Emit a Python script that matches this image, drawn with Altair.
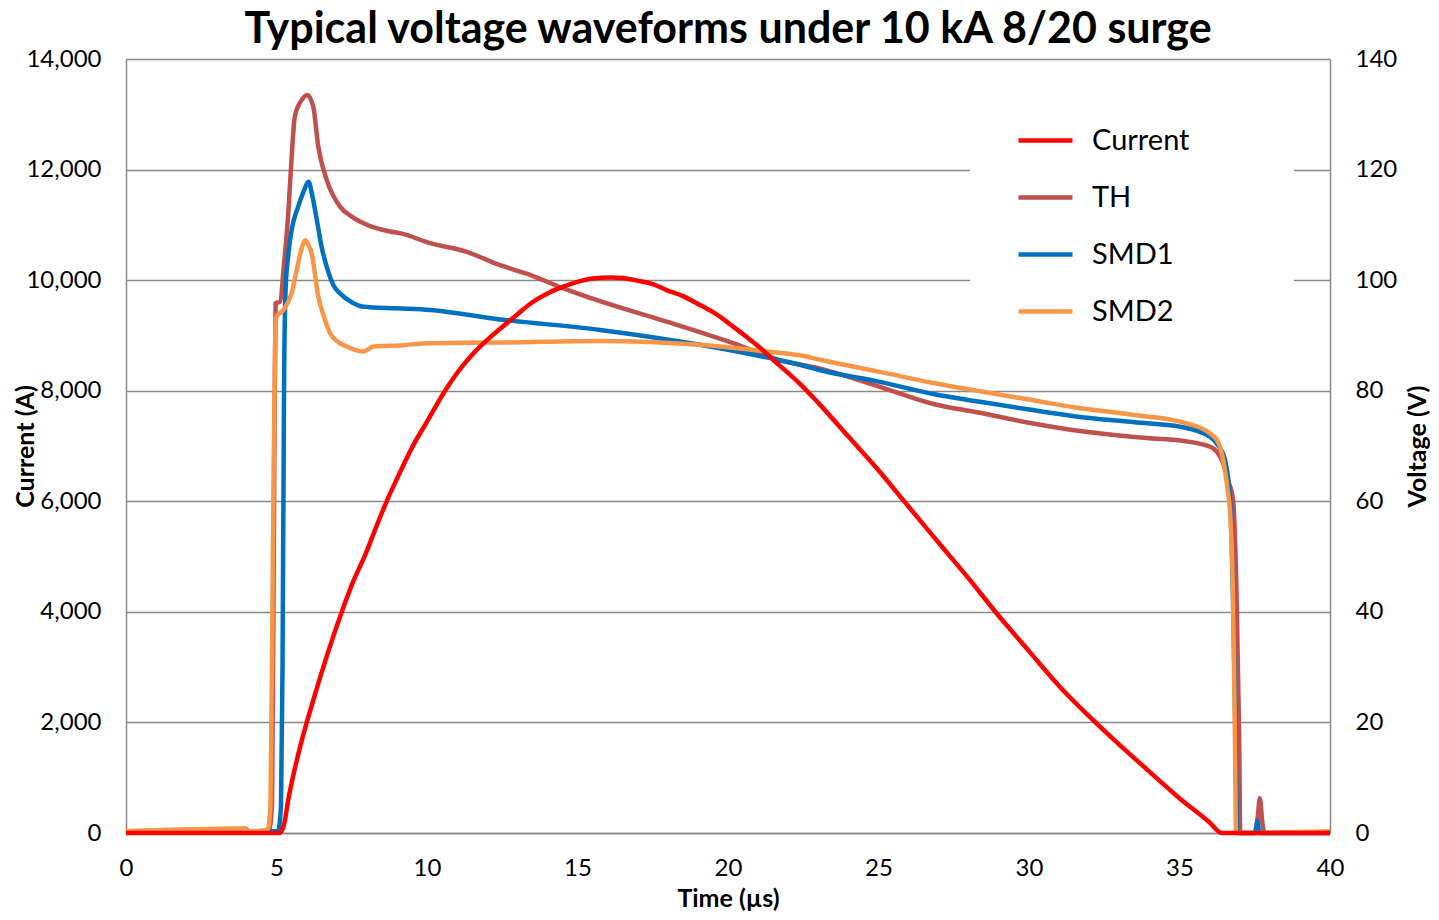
import altair as alt
import pandas as pd

# ---- data ----
series_names = ["Current", "TH", "SMD1", "SMD2"]
series_colors = ["#FF0000", "#C0504D", "#0070C0", "#F79646"]

x_ticks = [0, 5, 10, 15, 20, 25, 30, 35, 40]
current_ticks = [0, 2000, 4000, 6000, 8000, 10000, 12000, 14000]
voltage_ticks = [0, 20, 40, 60, 80, 100, 120, 140]

current_t = [0, 4.0, 5.1, 5.25, 5.39, 5.73, 6.22, 6.7, 7.17, 7.55, 7.94, 8.3, 8.66, 9.1,
             9.55, 10.0, 10.6, 11.0, 11.5, 12.0, 12.43, 13.0, 13.5, 14.0, 14.42, 15.0,
             15.5, 16.08, 16.5, 17.0, 17.5, 17.96, 18.5, 19.0, 19.62, 20.17, 20.6, 21.06,
             21.5, 22.0, 22.4, 23.0, 24.0, 25.0, 25.82, 27.0, 28.0, 28.93, 30.0, 31.0,
             32.25, 33.0, 34.0, 35.0, 36.0, 36.4, 38.0, 40.0]
current_a = [0, 0, 0, 150, 600, 1440, 2400, 3250, 4000, 4550, 5020, 5520, 6000, 6520,
             7020, 7440, 8000, 8320, 8650, 8920, 9120, 9380, 9600, 9760, 9860, 9970,
             10030, 10050, 10040, 9990, 9930, 9820, 9710, 9570, 9380, 9160, 8980, 8780,
             8560, 8320, 8120, 7780, 7170, 6560, 6020, 5250, 4600, 3970, 3290, 2660,
             1980, 1600, 1110, 630, 190, 0, 0, 0]

th_t = [0, 3.8, 3.95, 4.1, 4.75, 4.85, 4.92, 4.97, 5.12, 5.25, 5.39, 5.5, 5.61, 5.84,
        6.02, 6.22, 6.39, 6.67, 7.11, 7.5, 7.89, 8.77, 9.1, 10.1, 11.32, 12.43, 13.4,
        14.4, 15.75, 17.96, 20.17, 21.73, 23.06, 25.05, 26.82, 28.37, 30.0, 31.69,
        33.0, 34.02, 35.02, 36.01, 36.3, 36.45, 36.6, 36.78, 36.9, 36.98, 37.02, 37.5,
        37.6, 37.67, 37.75, 37.82, 40.0]
th_v = [0.3, 0.3, 0.8, 0.3, 0.5, 5, 60, 95.8, 96.1, 103, 112, 122, 129.6, 132.6,
        133.5, 131.4, 124.1, 118.1, 113.3, 111.5, 110.3, 108.8, 108.5, 106.7, 105.1,
        102.7, 101.0, 98.8, 96.2, 92.5, 88.6, 85.5, 84.0, 80.7, 77.6, 76.0, 74.2, 72.7,
        71.9, 71.4, 71.0, 69.9, 68.5, 66.9, 64.0, 60.2, 42.0, 18.0, 0, 0,
        3.0, 6.3, 2.0, 0, 0]

smd1_t = [0, 3.9, 4.1, 5.05, 5.15, 5.2, 5.25, 5.3, 5.4, 5.5, 5.72, 5.9, 6.06, 6.2, 6.34,
          6.5, 6.67, 6.9, 7.11, 7.5, 7.89, 8.99, 10.1, 12.43, 15.75, 19.07, 21.73,
          22.39, 23.06, 25.05, 26.82, 28.37, 30.0, 31.5, 33.5, 35.02, 36.01, 36.3,
          36.51, 36.68, 36.78, 36.86, 36.92, 37.5, 37.55, 37.59, 37.65, 40.0]
smd1_v = [0.3, 0.6, 0.3, 0.3, 5, 30, 80, 98, 105, 109, 113.3, 116, 117.8, 115, 110.9,
          106, 102.4, 99, 97.6, 96, 95.2, 94.9, 94.6, 92.9, 91.0, 88.3, 85.5,
          84.7, 83.7, 81.6, 79.4, 78.0, 76.6, 75.4, 74.3, 73.5, 71.7, 70.0,
          67.5, 60.2, 42.0, 18.0, 0, 0, 1.0, 2.2, 0, 0]

smd2_t = [0, 3.9, 4.1, 4.7, 4.8, 4.88, 4.95, 5.0, 5.23, 5.5, 5.67, 5.85, 5.95, 6.05,
          6.17, 6.39, 6.6, 6.78, 7.0, 7.33, 7.89, 8.22, 9.1, 10.1, 12.43, 15.75, 19.07,
          21.3, 22.39, 23.06, 25.05, 26.82, 28.37, 30.0, 31.5, 33.5, 35.02, 36.01,
          36.3, 36.45, 36.6, 36.68, 36.78, 36.84, 36.88, 40.0]
smd2_v = [0.3, 0.8, 0.3, 0.5, 5, 50, 88, 93.4, 94.6, 97.6, 101.8, 106, 107.2, 106.5,
          104.8, 97, 93, 90.4, 89, 88, 87.1, 88, 88.2, 88.6, 88.7, 89.0, 88.3,
          87.1, 86.4, 85.6, 83.4, 81.4, 79.9, 78.4, 77.0, 75.6, 74.4, 72.3,
          70.5, 67.5, 62.0, 58.0, 42.0, 18.0, 0, 0.3]

# ---- tables ----
df_cur = pd.DataFrame({"t": current_t, "value": current_a, "series": series_names[0]})
df_th = pd.DataFrame({"t": th_t, "value": th_v, "series": series_names[1]})
df_s1 = pd.DataFrame({"t": smd1_t, "value": smd1_v, "series": series_names[2]})
df_s2 = pd.DataFrame({"t": smd2_t, "value": smd2_v, "series": series_names[3]})

FONT = "Lato"
GRID = "#898989"
LBL = 24
TTL = 25
PAD = "\u2800" * 4

x_enc = alt.X(
    "t:Q",
    scale=alt.Scale(domain=[0, 40], nice=False),
    axis=alt.Axis(values=x_ticks, title="Time (µs)", grid=False, ticks=False, tickSize=0,
                  domainColor=GRID, domainWidth=1.5, labelFontSize=LBL, labelFont=FONT,
                  labelColor="black", labelPadding=23, labelFlush=False,
                  titleFontSize=TTL, titleFont=FONT,
                  titleFontWeight="bold", titleColor="black", titleY=65,
                  titleBaseline="middle"),
)

color_enc = alt.Color(
    "series:N",
    scale=alt.Scale(domain=series_names, range=series_colors),
    sort=series_names,
    legend=alt.Legend(orient="none", legendX=844, legendY=32, title=None,
                      symbolType="stroke", symbolSize=2916, symbolStrokeWidth=4.5,
                      symbolOffset=26,
                      labelFontSize=29, labelFont=FONT, labelColor="black", labelOffset=17,
                      labelLimit=400, rowPadding=12, padding=20, fillColor="white",
                      labelExpr="datum.label + '" + PAD + "'"),
)

volt_axis = alt.Axis(values=voltage_ticks, orient="right", title="Voltage (V)", grid=False,
                     ticks=False, tickSize=0, domainColor=GRID, domainWidth=1.5,
                     labelFontSize=LBL, labelFont=FONT, labelColor="black", labelPadding=25,
                     titleFontSize=TTL, titleFont=FONT, titleFontWeight="bold",
                     titleColor="black", titleAngle=270, titleX=87, titleY=387,
                     titleBaseline="middle", titleAlign="center")
volt_scale = alt.Scale(domain=[0, 140], nice=False)


def volt_layer(df):
    return alt.Chart(df).mark_line(strokeWidth=4.5, interpolate="monotone").encode(
        x=x_enc,
        y=alt.Y("value:Q", scale=volt_scale, axis=volt_axis),
        color=color_enc,
    )


volt = alt.layer(volt_layer(df_th), volt_layer(df_s1), volt_layer(df_s2))

cur = alt.Chart(df_cur).mark_line(strokeWidth=4.5, interpolate="monotone").encode(
    x=x_enc,
    y=alt.Y("value:Q", scale=alt.Scale(domain=[0, 14000], nice=False),
            axis=alt.Axis(values=current_ticks, format=",.0f", orient="left",
                          title="Current (A)", grid=True, gridColor=GRID, gridWidth=1.5,
                          ticks=False, tickSize=0, domainColor=GRID, domainWidth=1.5,
                          labelFontSize=LBL, labelFont=FONT, labelColor="black",
                          labelPadding=25, titleFontSize=TTL, titleFont=FONT,
                          titleFontWeight="bold", titleColor="black", titleAngle=270,
                          titleX=-101, titleY=387, titleBaseline="middle",
                          titleAlign="center")),
    color=color_enc,
)

chart = alt.layer(volt, cur).resolve_scale(y="independent").properties(
    width=1204,
    height=774,
    autosize=alt.AutoSizeParams(type="none"),
    padding={"left": 118, "top": 51, "right": 100, "bottom": 78},
    title=alt.TitleParams("Typical voltage waveforms under 10 kA 8/20 surge", fontSize=43,
                          font=FONT, fontWeight="bold", color="black", anchor="middle",
                          frame="group", offset=-5),
).configure_view(stroke=None).configure(background="white")

chart.save("out.html", embed_options={"renderer": "svg", "actions": False})
